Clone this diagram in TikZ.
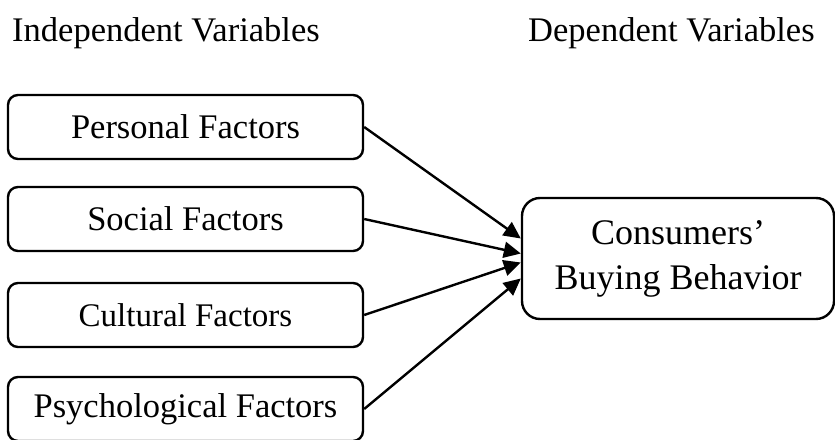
\documentclass[tikz,border=0pt]{standalone}
\usepackage{fontspec}
\setmainfont{Liberation Serif}
\usetikzlibrary{arrows.meta}
\begin{document}
\begin{tikzpicture}[x=1pt,y=-1pt,
  factor/.style={draw,line width=2.4pt,rounded corners=10pt,minimum width=355pt,minimum height=64pt,inner sep=0pt,font=\fontsize{34.5}{41}\selectfont},
  outcome/.style={draw,line width=2.4pt,rounded corners=18pt,minimum width=312pt,minimum height=121pt,inner sep=0pt,align=center,font=\fontsize{36}{45}\selectfont},
  header/.style={anchor=base west,inner sep=0pt,font=\fontsize{34.5}{41}\selectfont},
  link/.style={line width=2.4pt,-{Triangle[length=17pt,width=16pt]}}]
\useasboundingbox (0,0) rectangle (835,439);

% column headings
\node[header] (indep) at (12,41) {Independent Variables};
\node[header] (dep) at (528,41) {Dependent Variables};

% factor boxes
\node[factor] (personal) at (185.5,127) {Personal Factors};
\node[factor] (social) at (185.5,219) {Social Factors};
\node[factor,font=\fontsize{33}{40}\selectfont] (cultural) at (185.5,315) {Cultural Factors};
\node[factor] (psych) at (185.5,409) {Psychological Factors};

% outcome box
\node[outcome] (buy) at (678,258.5) {Consumers’\\Buying Behavior};

% influence arrows (yshift is measured upwards)
\draw[link] (personal.east) -- ([yshift=20pt]buy.west);
\draw[link] (social.east) -- ([yshift=5pt]buy.west);
\draw[link] (cultural.east) -- ([yshift=-4pt]buy.west);
\draw[link] (psych.east) -- ([yshift=-20pt]buy.west);
\end{tikzpicture}
\end{document}
